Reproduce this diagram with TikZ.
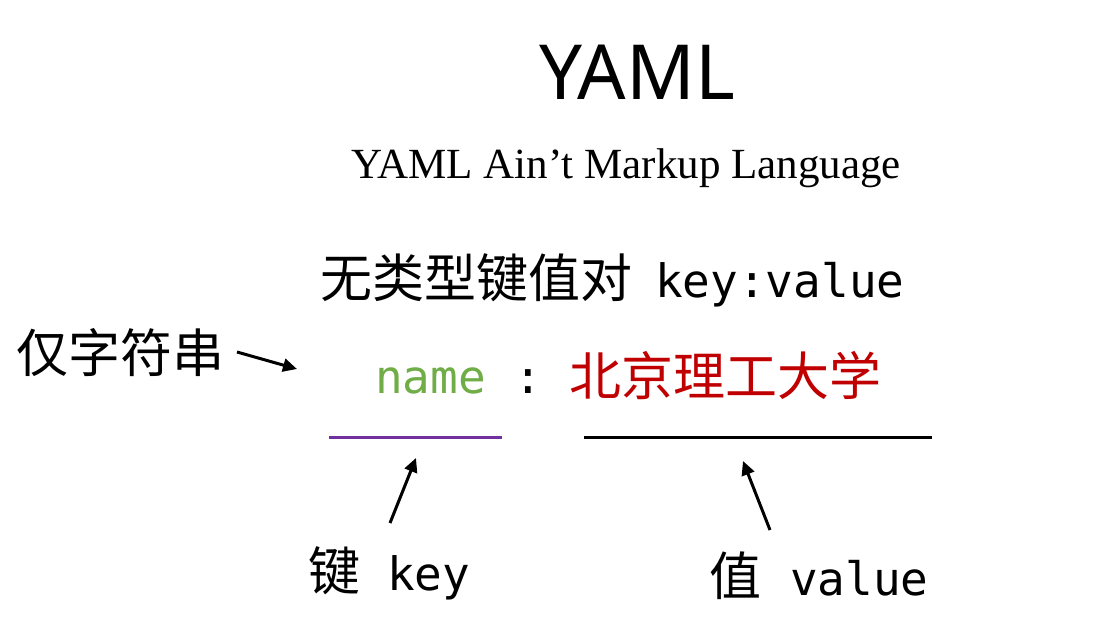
\documentclass[tikz,border=0pt]{standalone}
\usepackage{fontspec}
\setmainfont{Liberation Serif}
\newfontfamily\cjk{Noto Sans CJK SC}
\newfontfamily\monof{DejaVu Sans Mono}
\newfontfamily\titlef{Noto Sans}
\usetikzlibrary{arrows.meta}
\definecolor{keygreen}{HTML}{70AD47}
\definecolor{valred}{HTML}{C00000}
\definecolor{keypurple}{HTML}{7030A0}
\newcommand{\fsz}[1]{\fontsize{#1bp}{#1bp}\selectfont}
\tikzset{
  txt/.style={inner sep=0pt, anchor=base west},
  pointer/.style={line width=3bp, -{Triangle[length=14bp,width=13bp]}},
  underline/.style={line width=3bp},
}
\begin{document}
\begin{tikzpicture}[x=1bp,y=-1bp]
\useasboundingbox[fill=white] (0,0) rectangle (1105,631);
% title
\node[inner sep=0pt, anchor=base] (title) at (637,100) {\titlef\fsz{76}YAML};
\node[inner sep=0pt, anchor=base] (sub) at (626,179) {\fsz{43}YAML Ain’t Markup Language};
% line 1
\node[txt] (kv) at (320,298) {\cjk\fsz{52}无类型键值对};
\node[txt] (kvcode) at (655,298) {\monof\fsz{46}key:value};
% left label
\node[txt] (only) at (16,372) {\cjk\fsz{52}仅字符串};
% key / value row
\node[txt, text=keygreen] (name) at (375,393) {\monof\fsz{46}name};
\node[txt] (colon) at (514,393) {\monof\fsz{46}:};
\node[txt, text=valred] (bit) at (569,395) {\cjk\fsz{52}北京理工大学};
% underlines
\coordinate (kl) at (329,437);
\coordinate (kr) at (502,437);
\coordinate (vl) at (584,437);
\coordinate (vr) at (932,437);
\draw[underline, keypurple] (kl) -- (kr);
\draw[underline, black] (vl) -- (vr);
% bottom labels
\node[txt] (keylab) at (308,590) {\cjk\fsz{52}键\hspace{27bp}\monof\fsz{46}key};
\node[txt] (vallab) at (709,595) {\cjk\fsz{52}值\hspace{29bp}\monof\fsz{46}value};
% arrows
\coordinate (a1s) at (237,352);
\coordinate (a1e) at (297,369);
\coordinate (a2s) at (390,523);
\coordinate (a2e) at (416,458);
\coordinate (a3s) at (770,530);
\coordinate (a3e) at (743,461);
\draw[pointer] (a1s) -- (a1e);
\draw[pointer] (a2s) -- (a2e);
\draw[pointer] (a3s) -- (a3e);
\end{tikzpicture}
\end{document}
